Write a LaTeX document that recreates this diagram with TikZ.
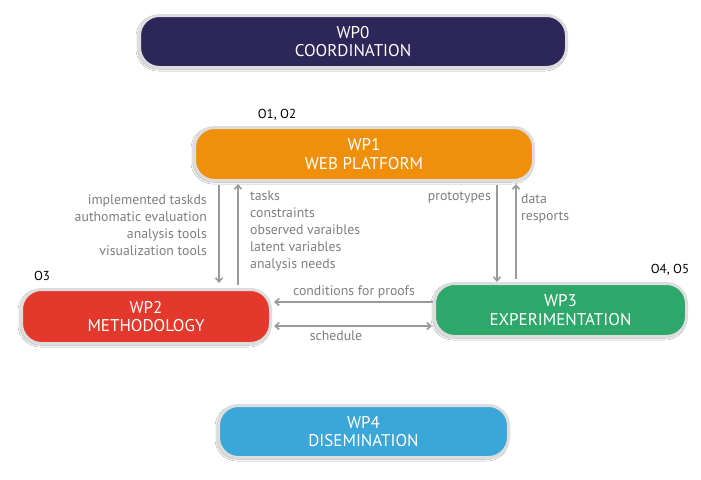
\documentclass[tikz,border=0pt]{standalone}
\usepackage{fontspec}
\setmainfont{PT Sans}
\usetikzlibrary{arrows.meta,shadows.blur}
\definecolor{cwp0}{HTML}{2D2759}
\definecolor{cwp1}{HTML}{F0900A}
\definecolor{cwp2}{HTML}{E3382B}
\definecolor{cwp3}{HTML}{2EA86A}
\definecolor{cwp4}{HTML}{3BA6D8}
\definecolor{lblgray}{HTML}{7F7F7F}
\definecolor{arrgray}{HTML}{9A9A9A}
\definecolor{bordergray}{HTML}{DDDDDD}
\begin{document}
\begin{tikzpicture}[x=1pt,y=-1pt,
  wpbox/.style={rounded corners=20pt, draw=bordergray, line width=3pt,
    text=white, align=center, inner sep=0pt,
    font=\fontsize{17}{18.5}\selectfont,
    blur shadow={shadow blur steps=6, shadow xshift=-1.5pt, shadow yshift=-1.5pt, shadow opacity=35}},
  lbl/.style={text=lblgray, inner sep=0pt, font=\fontsize{13.8}{17}\selectfont},
  obj/.style={text=black, inner sep=0pt, font=\fontsize{13}{15}\selectfont},
  conn/.style={draw=arrgray, line width=1.6pt, -{Straight Barb[length=4pt,width=7pt]}},
  conn2/.style={draw=arrgray, line width=1.6pt, {Straight Barb[length=4pt,width=7pt]}-{Straight Barb[length=4pt,width=7pt]}}
]
\useasboundingbox (0,0) rectangle (701,479);
\fill[white] (0,0) rectangle (701,479);

\node[wpbox, fill=cwp0, minimum width=427pt, minimum height=52pt] (wp0) at (353,41.5) {WP0\\COORDINATION};
\node[wpbox, fill=cwp1, minimum width=339pt, minimum height=53pt] (wp1) at (364,154) {WP1\\WEB PLATFORM};
\node[wpbox, fill=cwp2, minimum width=249pt, minimum height=54pt] (wp2) at (146,316.5) {WP2\\METHODOLOGY};
\node[wpbox, fill=cwp3, minimum width=252pt, minimum height=53pt] (wp3) at (560.5,310) {WP3\\EXPERIMENTATION};
\node[wpbox, fill=cwp4, minimum width=290pt, minimum height=52pt] (wp4) at (363.5,431.5) {WP4\\DISEMINATION};

\node[obj] (o12) at (277,115) {O1, O2};
\node[obj] (o3) at (42,276) {O3};
\node[obj] (o45) at (670,270) {O4, O5};

\coordinate (xa) at (219,0);
\coordinate (xb) at (238,0);
\coordinate (xc) at (497,0);
\coordinate (xd) at (516,0);
\coordinate (ya) at (0,302);
\coordinate (yb) at (0,326);

\draw[conn, shorten <=3pt, shorten >=5pt] (wp1.south -| xa) -- (wp2.north -| xa);
\draw[conn, shorten <=3pt, shorten >=2pt] (wp2.north -| xb) -- (wp1.south -| xb);
\draw[conn, shorten <=3pt, shorten >=0pt] (wp1.south -| xc) -- (wp3.north -| xc);
\draw[conn, shorten <=3pt, shorten >=2pt] (wp3.north -| xd) -- (wp1.south -| xd);
\draw[conn, shorten >=2pt] (wp3.west |- ya) -- (wp2.east |- ya);
\draw[conn2, shorten <=2pt, shorten >=1pt] (wp2.east |- yb) -- (wp3.west |- yb);

\node[lbl, align=right, anchor=east] (l1) at (207,225) {implemented taskds\\authomatic evaluation\\analysis tools\\visualization tools};
\node[lbl, align=left, anchor=west] (l2) at (250,231.5) {tasks\\constraints\\observed varaibles\\latent variables\\analysis needs};
\node[lbl, anchor=east] (l3) at (491,198) {prototypes};
\node[lbl, align=left, anchor=west] (l4) at (521,209) {data\\resports};
\node[lbl] (l5) at (354,292) {conditions for proofs};
\node[lbl] (l6) at (336,336) {schedule};
\end{tikzpicture}
\end{document}
